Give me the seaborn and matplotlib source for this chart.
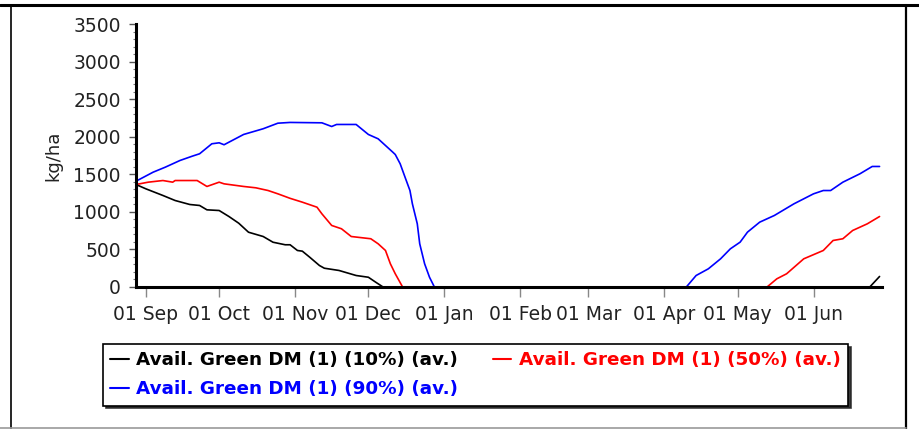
import numpy as np
import pandas as pd
import matplotlib
matplotlib.use("Agg")
import matplotlib.pyplot as plt
import matplotlib.dates as mdates
from matplotlib.ticker import MultipleLocator
import seaborn as sns

# --- DATI ---
dates_10 = ["2001-08-28", "2001-09-01", "2001-09-08", "2001-09-13", "2001-09-19", "2001-09-23",
            "2001-09-26", "2001-10-01", "2001-10-05", "2001-10-09", "2001-10-13", "2001-10-19",
            "2001-10-23", "2001-10-28", "2001-10-30", "2001-11-02", "2001-11-04", "2001-11-07",
            "2001-11-11", "2001-11-13", "2001-11-19", "2001-11-26", "2001-12-01", "2001-12-04",
            "2001-12-07", "2002-06-24", "2002-06-28"]
vals_10 = [1364, 1307, 1218, 1151, 1098, 1085, 1027, 1018, 938, 849, 729, 672,
           596, 562, 562, 486, 477, 397, 286, 250, 220, 153, 130, 64, 0, 0, 140]

dates_50 = ["2001-08-28", "2001-09-02", "2001-09-08", "2001-09-12", "2001-09-13", "2001-09-22",
            "2001-09-26", "2001-10-01", "2001-10-03", "2001-10-11", "2001-10-16", "2001-10-21",
            "2001-10-25", "2001-10-30", "2001-11-04", "2001-11-10", "2001-11-12", "2001-11-16",
            "2001-11-20", "2001-11-24", "2001-12-02", "2001-12-05", "2001-12-08", "2001-12-10",
            "2001-12-12", "2001-12-15", "2002-05-13", "2002-05-17", "2002-05-21", "2002-05-28",
            "2002-06-05", "2002-06-09", "2002-06-13", "2002-06-17", "2002-06-23", "2002-06-28"]
vals_50 = [1364, 1395, 1417, 1395, 1417, 1417, 1338, 1395, 1373, 1338, 1320, 1284,
           1240, 1180, 1129, 1062, 974, 819, 775, 672, 642, 575, 486, 309,
           176, 0, 0, 109, 176, 375, 486, 619, 642, 752, 841, 938]

dates_90 = ["2001-08-28", "2001-09-04", "2001-09-09", "2001-09-15", "2001-09-20", "2001-09-23",
            "2001-09-28", "2001-10-01", "2001-10-03", "2001-10-11", "2001-10-19", "2001-10-25",
            "2001-10-30", "2001-11-12", "2001-11-16", "2001-11-18", "2001-11-26", "2001-12-01",
            "2001-12-05", "2001-12-11", "2001-12-12", "2001-12-14", "2001-12-16", "2001-12-18",
            "2001-12-19", "2001-12-21", "2001-12-22", "2001-12-24", "2001-12-26", "2001-12-28",
            "2002-04-10", "2002-04-14", "2002-04-19", "2002-04-24", "2002-04-28", "2002-05-02",
            "2002-05-05", "2002-05-10", "2002-05-16", "2002-05-24", "2002-06-01", "2002-06-05",
            "2002-06-08", "2002-06-13", "2002-06-20", "2002-06-25", "2002-06-28"]
vals_90 = [1408, 1528, 1595, 1684, 1741, 1773, 1906, 1919, 1893, 2030, 2106, 2180,
           2190, 2185, 2136, 2163, 2163, 2030, 1972, 1794, 1763, 1640, 1461, 1284,
           1107, 841, 575, 309, 130, 0,
           0, 153, 242, 375, 508, 597, 730, 863, 952, 1107, 1240, 1284,
           1284, 1395, 1507, 1604, 1604]

series_labels = ["Avail. Green DM (1) (10%) (av.)",
                 "Avail. Green DM (1) (50%) (av.)",
                 "Avail. Green DM (1) (90%) (av.)"]
series_colors = ["black", "#ff0000", "#0000ff"]

frames = []
for d, v, lab in zip([dates_10, dates_50, dates_90], [vals_10, vals_50, vals_90], series_labels):
    frames.append(pd.DataFrame({"date": pd.to_datetime(d), "value": v, "series": lab}))
df = pd.concat(frames, ignore_index=True)

# --- GRAFICO ---
sns.set_style("ticks")
plt.rcParams["font.family"] = ["DejaVu Sans"]

W, H = 919, 429
fig = plt.figure(figsize=(W / 100, H / 100), dpi=100)
ax = fig.add_axes([136 / W, 1 - 287 / H, (882 - 136) / W, (287 - 24) / H])

sns.lineplot(data=df, x="date", y="value", hue="series", hue_order=series_labels,
             palette=dict(zip(series_labels, series_colors)), linewidth=1.2,
             estimator=None, sort=True, ax=ax)

ax.set_xlim(pd.Timestamp("2001-08-28"), pd.Timestamp("2002-06-29"))
ax.set_ylim(0, 3500)
ax.yaxis.set_major_locator(MultipleLocator(500))
ax.yaxis.set_minor_locator(MultipleLocator(100))
ax.xaxis.set_major_locator(mdates.MonthLocator())
ax.xaxis.set_major_formatter(mdates.DateFormatter("%d %b"))

sns.despine(ax=ax)
for side in ["left", "bottom"]:
    ax.spines[side].set_linewidth(2.2)
    ax.spines[side].set_color("black")

ax.tick_params(axis="x", length=7, width=1, color="#888888", pad=6, labelsize=13.5, labelcolor="#222222")
ax.tick_params(axis="y", which="major", length=5, width=1, color="#555555", pad=6, labelsize=13.5,
               labelcolor="#222222")
ax.tick_params(axis="y", which="minor", length=2, width=0.8, color="#777777")

ax.set_xlabel("")
ax.set_ylabel("kg/ha", fontsize=13, color="#222222", labelpad=8)

handles, labels = ax.get_legend_handles_labels()
order = [0, 2, 1]
leg = ax.legend([handles[i] for i in order], [labels[i] for i in order],
                loc="upper left", bbox_to_anchor=(103 / W, 1 - 408 / H, 745 / W, 64 / H),
                bbox_transform=fig.transFigure, mode="expand", ncol=2,
                prop={"weight": "bold", "size": 13.2}, labelcolor="linecolor",
                handlelength=1.0, handletextpad=0.4, labelspacing=0.6, borderpad=0.4,
                borderaxespad=0, fancybox=False, framealpha=1,
                edgecolor="black", shadow={"color": "0.15", "alpha": 0.9})
leg.get_frame().set_linewidth(1.2)
for line in leg.get_lines():
    line.set_linewidth(1.5)

# cornice esterna
fig.add_artist(plt.Line2D([0, 1], [1 - 4.5 / H] * 2, transform=fig.transFigure, color="black", lw=2.2))
fig.add_artist(plt.Line2D([10.5 / W] * 2, [0, 1 - 4.5 / H], transform=fig.transFigure, color="black", lw=1.2))
fig.add_artist(plt.Line2D([906 / W] * 2, [0, 1 - 4.5 / H], transform=fig.transFigure, color="black", lw=1.6))
fig.add_artist(plt.Line2D([0, 906 / W], [1 - 427.5 / H] * 2, transform=fig.transFigure, color="#999999", lw=1.2))

fig.savefig("out.png", dpi=100)
